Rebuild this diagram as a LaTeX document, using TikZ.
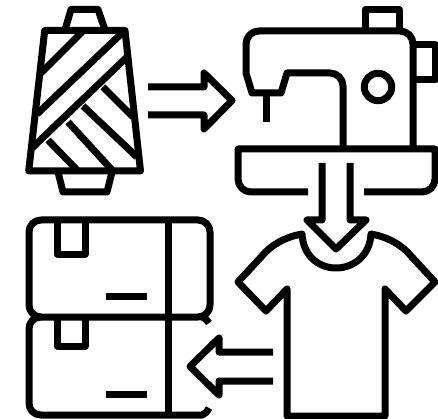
\documentclass[tikz,border=0pt]{standalone}
\tikzset{
  icon/.style={draw=black,line width=7,line join=round,line cap=butt},
}
\begin{document}
\begin{tikzpicture}[x=1pt,y=-1pt]
\fill[white] (0,0) rectangle (438,419);
\useasboundingbox (0,0) rectangle (438,419);
% thread spool
\draw[icon] (65,30) -- (71,9.5) -- (98,9.5) -- (105,30);
\draw[icon] (44.7,30.5) -- (125,30.5) -- (140.5,171) -- (28.7,171) -- cycle;
\draw[icon] (58,172) -- (63,192) -- (107,192) -- (112,172);
\draw[icon] (82,32) -- (41,73);
\draw[icon] (122,33) -- (37,114);
\draw[icon] (127,57) -- (32,148);
\draw[icon] (103,87) -- (133,117);
\draw[icon] (83,106) -- (137,157);
\draw[icon] (68,122) -- (112,170);
\draw[icon] (48,140) -- (77,170);
% arrow to machine
\draw[icon] (148,87) -- (204,87) -- (204,73) -- (232,100.5) -- (204,129) -- (204,115) -- (148,115);
% sewing machine
\draw[icon] (365,29) -- (365,9.5) -- (399,9.5) -- (399,29);
\draw[icon] (416,45) -- (435,45) -- (435,80) -- (416,80);
\draw[icon,rounded corners=13] (343,149) -- (343,73) [sharp corners] -- (287,73) -- (281,93) -- (252,93) -- (246,73) [rounded corners=13] -- (246,31) -- (413,31) -- (413,149);
\draw[icon] (266,93) -- (266,122);
\draw[icon] (378,87) circle[radius=13.7];
\draw[icon,rounded corners=13] (308,192) -- (238,192) [sharp corners] -- (238,149) -- (435,149) [rounded corners=13] -- (435,192) -- (364,192);
% arrow to shirt
\draw[icon] (322,163) -- (322,220) -- (307,220) -- (336,249) -- (366,220) -- (350,220) -- (350,163);
% t-shirt
\draw[icon] (302,234) .. controls (303,255) and (318,268) .. (336,268) .. controls (354,268) and (370,255) .. (371,234)
  .. controls (388,237) and (402,245) .. (411,256) -- (435,282) -- (406,311) -- (385,289) -- (385,416) -- (287,416) -- (287,289) -- (266,311) -- (238,282) -- (262,256) .. controls (271,245) and (285,237) .. (302,234) -- cycle;
% arrow to boxes
\draw[icon] (273,352) -- (219,352) -- (219,338) -- (190,366.5) -- (219,395) -- (219,381) -- (273,381);
% boxes
\draw[icon,rounded corners=12] (29,220) rectangle (210,317);
\draw[icon] (41,317) .. controls (34,317) and (29,322) .. (29,329) -- (29,403) .. controls (29,410) and (34,415) .. (41,415) -- (202,415) .. controls (205,414) and (207,412) .. (209,408);
\draw[icon] (202,317) .. controls (205,318) and (207,320) .. (209,323);
\draw[icon] (168,220) -- (168,415);
\draw[icon] (57,220) -- (57,254) -- (85,254) -- (85,220);
\draw[icon] (57,317) -- (57,346) -- (85,346) -- (85,317);
\draw[icon] (106,296) -- (147,296);
\draw[icon] (106,394) -- (147,394);
\end{tikzpicture}
\end{document}
